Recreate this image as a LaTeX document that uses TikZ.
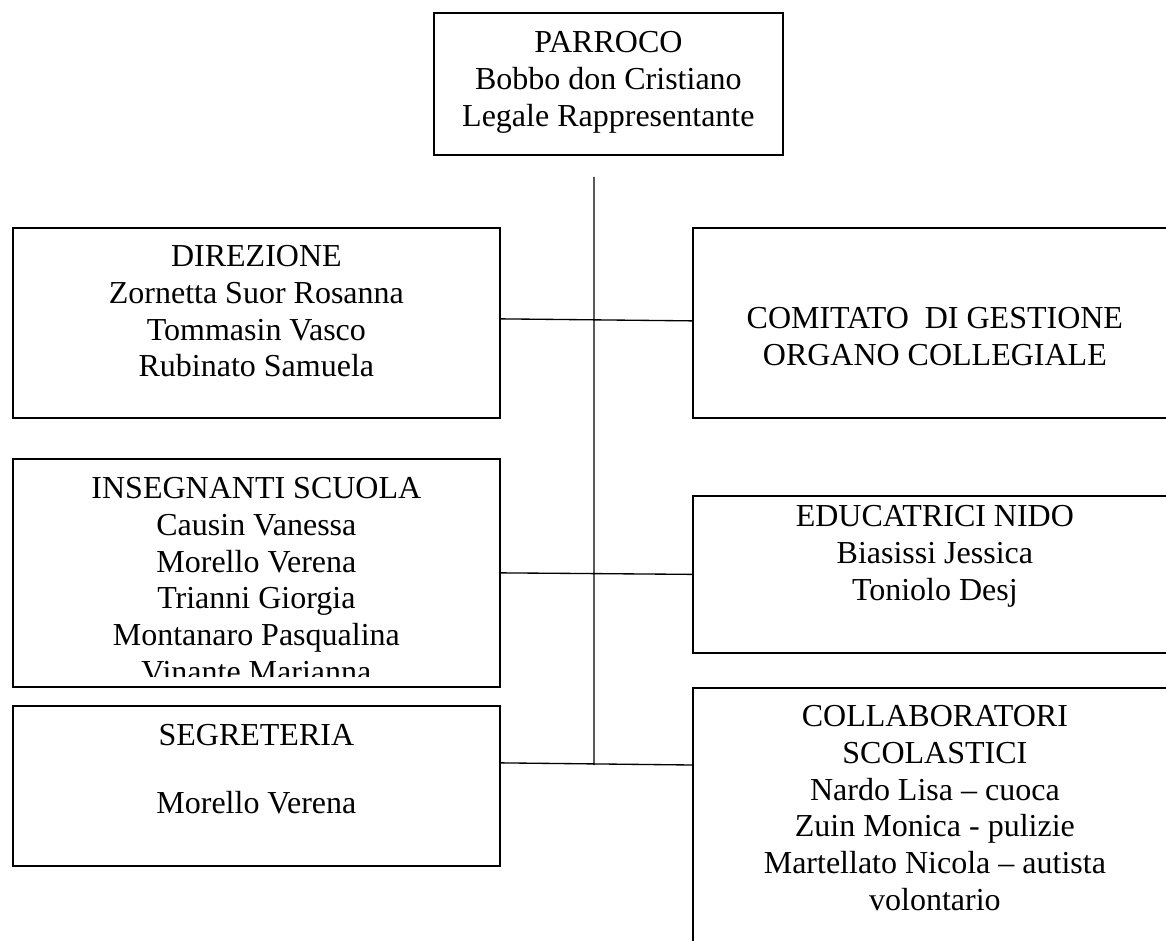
\documentclass[tikz,border=0pt]{standalone}
\usepackage{fontspec}
\setmainfont{Liberation Serif}
\usetikzlibrary{positioning}

\begin{document}
    \begin{tikzpicture}[x=0.75pt, y=-0.75pt,
            unit/.style={draw, line width=1.3pt, rectangle, inner sep=0pt, anchor=north west},
            names/.style={align=center, inner sep=0pt, font=\fontsize{24}{27.6}\selectfont}]
        \useasboundingbox (0,0) rectangle (1166,941);
        \clip (0,0) rectangle (1166,941);

        \node (Parroco) [unit, minimum width=261.75pt, minimum height=106.5pt] at (433,12) {};
        \node (Dir) [unit, minimum width=365.25pt, minimum height=142.5pt] at (12,227) {};
        \node (Com) [unit, minimum width=363pt, minimum height=142.5pt] at (692,227) {};
        \node (Ins) [unit, minimum width=365.25pt, minimum height=171pt] at (12,458) {};
        \node (Edu) [unit, minimum width=363pt, minimum height=117.75pt] at (692,495) {};
        \node (Seg) [unit, minimum width=365.25pt, minimum height=120pt] at (12,705) {};
        \node (Coll) [unit, minimum width=363pt, minimum height=234.75pt] at (692,687) {};

        \node (ParrocoText) [names, below=14.3pt of Parroco.north]
            {PARROCO\\Bobbo don Cristiano\\Legale Rappresentante};
        \node (DirText) [names, below=13.55pt of Dir.north]
            {DIREZIONE\\Zornetta Suor Rosanna\\Tommasin Vasco\\Rubinato Samuela};
        \node (ComText) [names, below=60pt of Com.north]
            {COMITATO~~DI GESTIONE\\ORGANO COLLEGIALE};
        \begin{scope}
            \clip (Ins.north west) rectangle ([yshift=8.25pt]Ins.south east);
            \node (InsText) [names, below=14.3pt of Ins.north]
                {INSEGNANTI SCUOLA\\Causin Vanessa\\Morello Verena\\Trianni Giorgia\\Montanaro Pasqualina\\Vinante Marianna};
        \end{scope}
        \node (EduText) [names, below=7.55pt of Edu.north]
            {EDUCATRICI NIDO\\Biasissi Jessica\\Toniolo Desj};
        \node (SegText) [names, below=14.3pt of Seg.north]
            {SEGRETERIA\\[23.4pt]Morello Verena};
        \node (CollText) [names, below=13.55pt of Coll.north]
            {COLLABORATORI\\SCOLASTICI\\Nardo Lisa – cuoca\\Zuin Monica - pulizie\\Martellato Nicola – autista\\volontario};

        \coordinate (TrunkTop) at (594,177);
        \coordinate (TrunkEnd) at (594,765);

        \draw[line width=1pt] (TrunkTop) -- (TrunkEnd)
            ([yshift=3pt]Dir.east) -- ([yshift=1.5pt]Com.west)
            (Ins.east) -- (Edu.west)
            ([yshift=17.25pt]Seg.east) -- ([yshift=-58.5pt]Coll.north west);
    \end{tikzpicture}
\end{document}
